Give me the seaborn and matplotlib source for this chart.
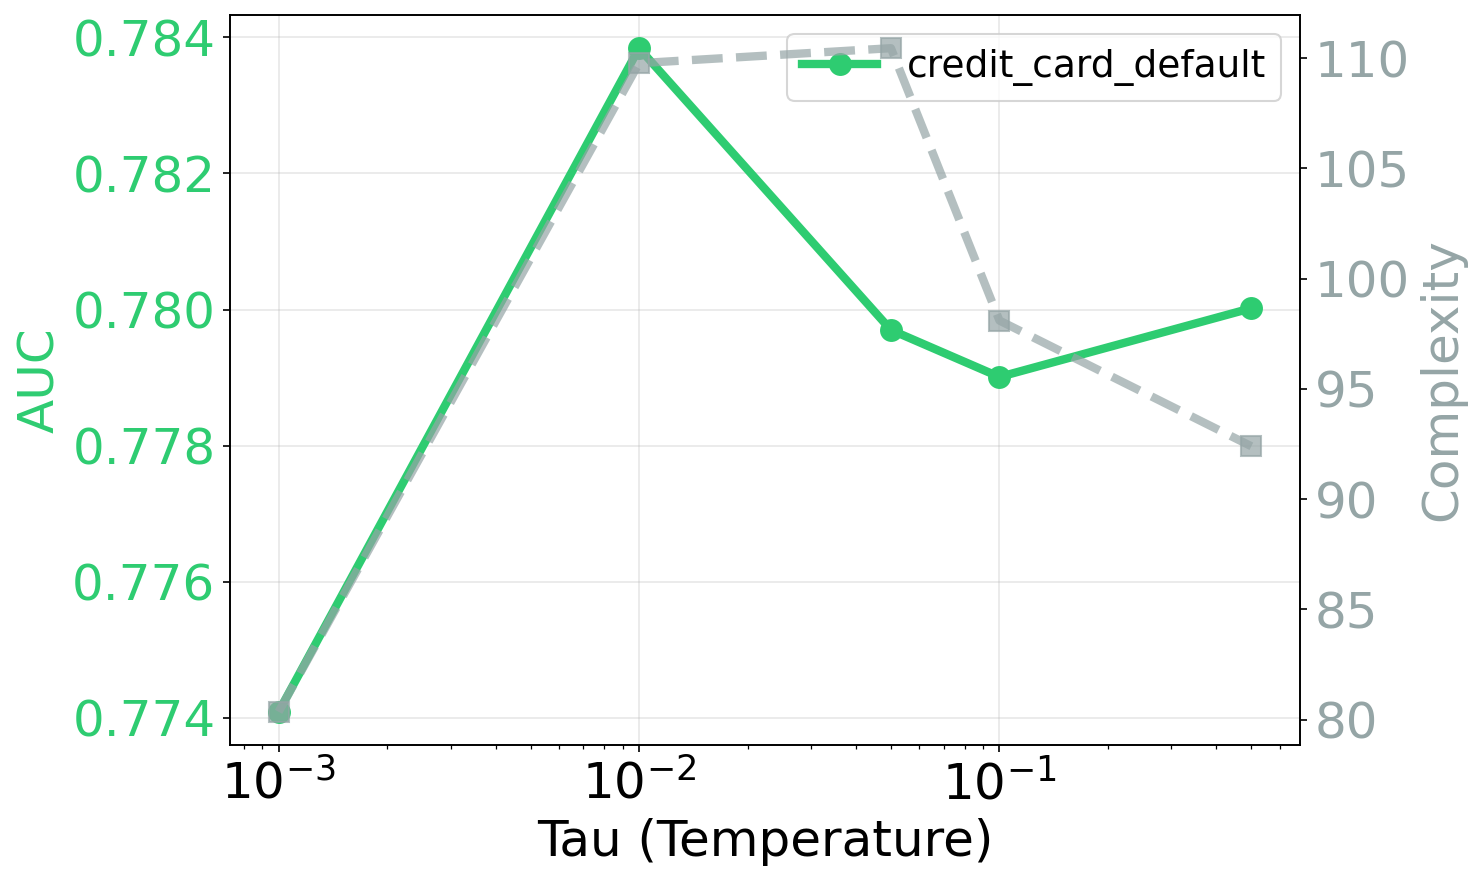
import numpy as np
import pandas as pd
import seaborn as sns
from matplotlib import pyplot as plt

taus = [0.001, 0.01, 0.05, 0.1, 0.5]
auc = [0.77409, 0.78384, 0.77970, 0.77901, 0.78002]
complexity = [80.36, 109.77, 110.45, 98.1, 92.4]
dataset = 'credit_card_default'

green = '#2ecc71'
gray = '#95a5a6'

df = pd.DataFrame({'tau': taus, 'auc': auc, 'complexity': complexity})

fig = plt.figure(figsize=(1481 / 150, 881 / 150), dpi=150)
ax1 = fig.add_axes([230 / 1481, 1 - 745 / 881, 1070 / 1481, 730 / 881])

sns.lineplot(data=df, x='tau', y='auc', ax=ax1, color=green, marker='o',
             markersize=11, markeredgewidth=0, linewidth=4, label=dataset)
ax1.set_xscale('log')
ax1.set_xlabel('Tau (Temperature)', fontsize=24)
ax1.set_ylabel('AUC', fontsize=24, color=green)
ax1.tick_params(axis='y', labelcolor=green, labelsize=24)
ax1.tick_params(axis='x', labelsize=24)
ax1.grid(True, alpha=0.3)

ax2 = ax1.twinx()
sns.lineplot(data=df, x='tau', y='complexity', ax=ax2, color=gray, marker='s',
             markersize=10, linewidth=4, linestyle='--', alpha=0.7,
             markeredgewidth=1, markeredgecolor=gray, legend=False)
ax2.set_ylabel('Complexity', fontsize=24, color=gray)
ax2.tick_params(axis='y', labelcolor=gray, labelsize=24)

ax1.legend(loc='upper right', fontsize=18)

fig.savefig('out.png', dpi=150)
